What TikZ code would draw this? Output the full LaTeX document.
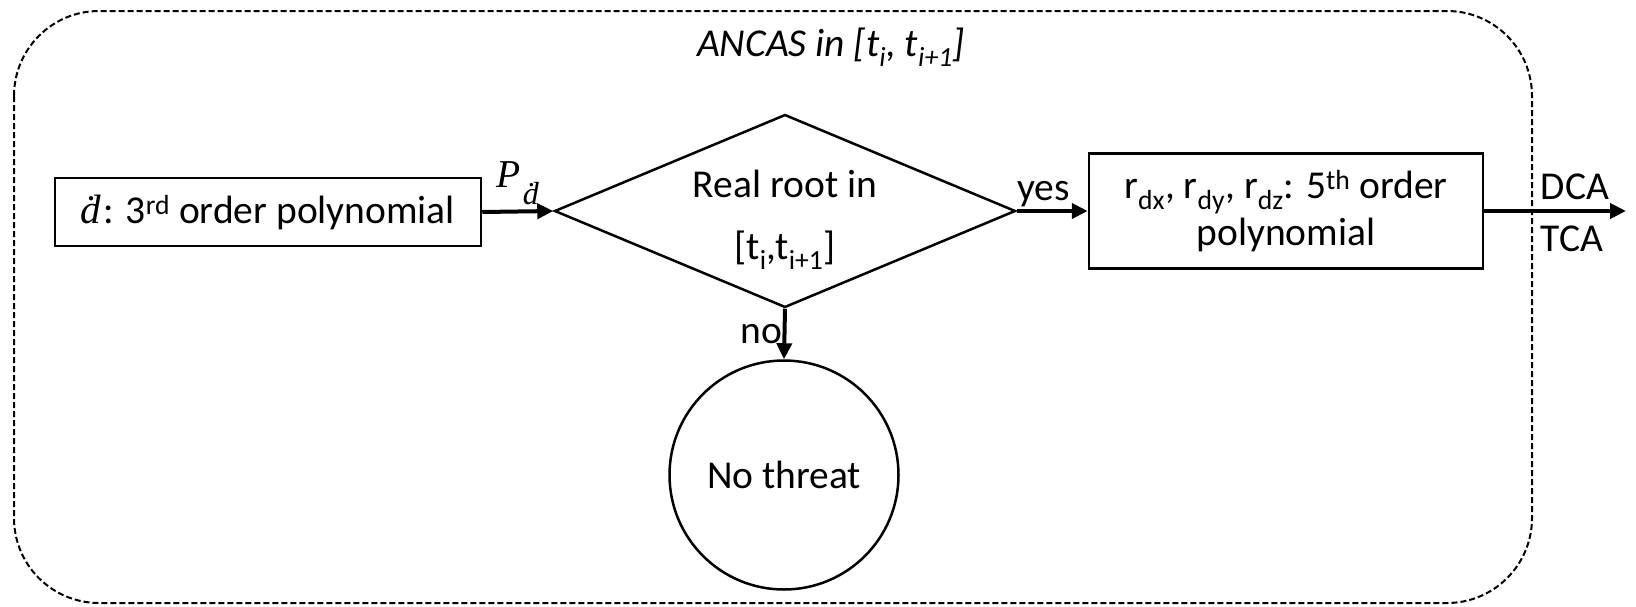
\documentclass[tikz,border=0pt]{standalone}
\usepackage{fontspec}
\setmainfont{Carlito}
\newfontfamily\mser{Liberation Serif}
\usetikzlibrary{arrows.meta,shapes.geometric}
\begin{document}
\begin{tikzpicture}[x=1pt,y=-1pt,
  every node/.style={font=\fontsize{39.5}{47}\selectfont},
  shapeline/.style={draw=black,line width=2.5pt},
  boxnode/.style={shapeline,rectangle,inner sep=0pt,align=center},
  decision/.style={shapeline,diamond,aspect=2.39,inner sep=0pt,minimum width=461pt,minimum height=193pt},
  endnode/.style={shapeline,circle,minimum size=229pt,inner sep=0pt},
  arr/.style={line width=4pt,-{Triangle[length=16pt,width=15pt]}},
  frame/.style={draw=black,line width=2pt,dash pattern=on 6pt off 3pt,rounded corners=85pt},
  lbl/.style={inner sep=2pt}
]
\useasboundingbox (0,0) rectangle (1636,606);
\draw[frame] (14,11) rectangle (1532,603);
\node[lbl] (title) at (831,47) {\itshape ANCAS in [t\textsubscript{i}, t\textsubscript{i+1}]};

\node[boxnode,minimum width=426pt,minimum height=68pt] (L) at (268,212) {{\mser\itshape\fontsize{41}{47}\selectfont ḋ}\kern2pt: 3\textsuperscript{rd} order polynomial};
\node[decision] (D) at (785,211) {};
\node[align=center,font=\fontsize{39.5}{62}\selectfont] (Dt) at (785,220) {Real root in\\{}[t\textsubscript{i},t\textsubscript{i+1}]};
\node[boxnode,minimum width=394pt,minimum height=115pt] (R) at (1286,211) {r\textsubscript{dx}, r\textsubscript{dy}, r\textsubscript{dz}: 5\textsuperscript{th} order\\polynomial};
\node[endnode] (C) at (784,475) {No threat};
\coordinate (out) at (1626,211);

\draw[arr] (L.east) -- (D.west) node[pos=0.5,above,inner sep=5pt] {\mser\itshape P\kern2pt\raisebox{-17pt}{\fontsize{32}{32}\selectfont ḋ}};
\draw[arr] (D.east) -- (R.west) node[pos=0.38,above,lbl] {yes};
\draw[arr] (D.south) -- (C.north) node[midway,left,inner sep=0pt] {no};
\draw[arr] (R.east) -- (out) node[pos=0.64,above,inner sep=9pt] {DCA} node[pos=0.62,below,inner sep=13pt] {TCA};
\end{tikzpicture}
\end{document}
